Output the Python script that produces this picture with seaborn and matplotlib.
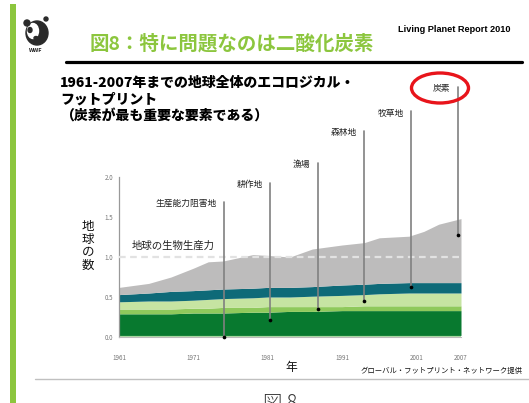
import matplotlib
matplotlib.use("Agg")
import matplotlib.pyplot as plt
from matplotlib.patches import Ellipse, Rectangle
from matplotlib.lines import Line2D
import pandas as pd
import seaborn as sns

# ---- data (in "number of planets") ----
years = [1961, 1965, 1968, 1971, 1973, 1975, 1979, 1981, 1984, 1987,
         1991, 1994, 1996, 2000, 2002, 2004, 2007]
built_up = [0.02, 0.02, 0.02, 0.02, 0.02, 0.02, 0.02, 0.02, 0.02, 0.02,
            0.02, 0.02, 0.02, 0.02, 0.02, 0.02, 0.02]
cropland = [0.27, 0.27, 0.27, 0.28, 0.28, 0.28, 0.29, 0.29, 0.30, 0.30,
            0.31, 0.31, 0.31, 0.31, 0.31, 0.31, 0.31]
fishing = [0.06, 0.06, 0.06, 0.06, 0.06, 0.07, 0.06, 0.07, 0.06, 0.06,
           0.05, 0.06, 0.06, 0.06, 0.06, 0.06, 0.06]
forest = [0.09, 0.10, 0.10, 0.10, 0.11, 0.11, 0.12, 0.12, 0.12, 0.13,
          0.14, 0.14, 0.15, 0.16, 0.16, 0.16, 0.16]
grazing = [0.09, 0.10, 0.12, 0.12, 0.12, 0.12, 0.12, 0.12, 0.12, 0.12,
           0.13, 0.13, 0.13, 0.13, 0.13, 0.13, 0.13]
carbon = [0.09, 0.12, 0.18, 0.28, 0.35, 0.35, 0.42, 0.40, 0.38, 0.47,
          0.50, 0.52, 0.57, 0.58, 0.64, 0.73, 0.80]
biocapacity = 1.0

# annotation callouts: label, year of the pointer, value of the dot
ann_labels = ["生産能力阻害地", "耕作地", "漁場", "森林地", "牧草地", "炭素"]
ann_years = [1975.1, 1981.3, 1987.7, 1994.0, 2000.3, 2006.6]
ann_values = [0.0, 0.21, 0.35, 0.45, 0.62, 1.28]

xtick_years = [1961, 1971, 1981, 1991, 2001, 2007]
ytick_values = [0.0, 0.5, 1.0, 1.5, 2.0]

# ---- layout (pixel positions measured on the 529x403 slide) ----
W, H = 529, 403
ann_tops = [1.69, 1.93, 2.18, 2.575, 2.82, 3.12]


def fx(px):
    return px / W


def fy(py):
    return 1 - py / H


sns.set_style("white")
plt.rcParams["font.family"] = ["Noto Sans CJK JP", "DejaVu Sans"]

fig = plt.figure(figsize=(W / 100, H / 100), dpi=100)
ax = fig.add_axes([fx(119), fy(337), fx(461) - fx(119), fy(177) - fy(337)])

colors = sns.color_palette(["#a8d8a0", "#08792f", "#8fc95c", "#c6e4a2",
                            "#0e6a78", "#bdbcbc"])
ax.stackplot(years, built_up, cropland, fishing, forest, grazing, carbon,
             colors=colors, linewidth=0)

ax.axhline(biocapacity, color="#e2e2e2", lw=1.6, ls=(0, (3, 2)), zorder=3)

ax.set_xlim(1961, 2007)
ax.set_ylim(0, 2.0)
ax.set_xticks(xtick_years)
ax.set_xticks(range(1961, 2008), minor=True)
ax.set_xticklabels([str(y) for y in xtick_years], fontsize=4.5, color="#777777")
ax.set_yticks(ytick_values)
ax.set_yticklabels([f"{v:.1f}" for v in ytick_values], fontsize=4.5, color="#777777")
ax.tick_params(axis="x", which="major", direction="out", length=6, width=0.8,
               color="#999999", pad=6)
ax.tick_params(axis="x", which="minor", direction="out", length=3, width=0.7,
               color="#999999")
ax.tick_params(axis="y", which="major", direction="in", length=3, width=0.8,
               color="#999999", pad=4)
sns.despine(ax=ax, top=True, right=True)
ax.spines["left"].set_color("#999999")
ax.spines["left"].set_linewidth(0.9)
ax.spines["bottom"].set_color("#bbbbbb")
ax.spines["bottom"].set_linewidth(0.8)

# callout lines, dots and labels
for lab, yr, val, top in zip(ann_labels, ann_years, ann_values, ann_tops):
    ax.plot([yr, yr], [val, top], color="#808080", lw=1.2, clip_on=False, zorder=4)
    ax.text(yr - 1.0, top - 0.02, lab, ha="right", va="center", fontsize=6.3,
            color="#222222", clip_on=False)
dots = pd.DataFrame({"year": ann_years, "value": ann_values})
sns.scatterplot(data=dots, x="year", y="value", color="black", s=7,
                linewidth=0, ax=ax, clip_on=False, zorder=5)
ax.set_xlabel("")
ax.set_ylabel("")

ax.text(1962.7, biocapacity + 0.14, "地球の生物生産力", fontsize=7.5,
        color="#222222", va="center", ha="left")

# red ring around carbon label
fig.add_artist(Ellipse((fx(440), fy(88)), 57 / W, 30 / H, fill=False,
                       edgecolor="#e8141b", lw=2.4, transform=fig.transFigure))

# axis titles / source
fig.text(fx(88), fy(246), "地\n球\nの\n数", ha="center", va="center",
         fontsize=9, linespacing=0.98, color="#111111")
fig.text(fx(291), fy(368), "年", ha="center", va="center", fontsize=8.5,
         color="#111111")
fig.text(fx(523), fy(371), "グローバル・フットプリント・ネットワーク提供",
         ha="right", va="center", fontsize=5.3, color="#111111")

# chart subtitle
fig.text(fx(60), fy(100),
         "1961-2007年までの地球全体のエコロジカル・\nフットプリント\n（炭素が最も重要な要素である）",
         ha="left", va="center", fontsize=10, fontweight="heavy",
         linespacing=1.25, color="black")

# slide header
fig.add_artist(Rectangle((fx(10), 0), 6 / W, fy(4), color="#8cc63e",
                         transform=fig.transFigure, lw=0))
fig.text(fx(90), fy(44), "図8：特に問題なのは二酸化炭素", ha="left", va="center",
         fontsize=14, fontweight="bold", color="#8cc63e")
fig.text(fx(398), fy(30), "Living Planet Report 2010", ha="left", va="center",
         fontsize=6.6, fontweight="bold", family="Liberation Sans", color="black")
fig.add_artist(Line2D([fx(66), fx(522)], [fy(61.5), fy(61.5)], color="black",
                      lw=2.3, transform=fig.transFigure))

# rough WWF panda mark
for (cx, cy, w, h, c) in [(37, 33, 22, 24, "#2a2a2a"), (33, 31, 11, 15, "white"),
                          (30, 30, 4, 5, "#2a2a2a"), (36, 38, 4, 3, "#2a2a2a"),
                          (27, 23, 6, 6, "#2a2a2a"), (46, 19, 4, 4, "#2a2a2a")]:
    fig.add_artist(Ellipse((fx(cx), fy(cy)), w / W, h / H, color=c,
                           transform=fig.transFigure))
fig.text(fx(36), fy(50), "WWF", ha="center", va="center", fontsize=4,
         fontweight="bold", color="#222222")

# footer rule and cut-off figure caption
fig.add_artist(Line2D([fx(35), fx(529)], [fy(379), fy(379)], color="#c0c0c0",
                      lw=1.0, transform=fig.transFigure))
fig.text(fx(280), fy(393), "図 8", ha="center", va="top", fontsize=14,
         fontweight="light", color="#333333")

fig.savefig("out.png", dpi=100)
